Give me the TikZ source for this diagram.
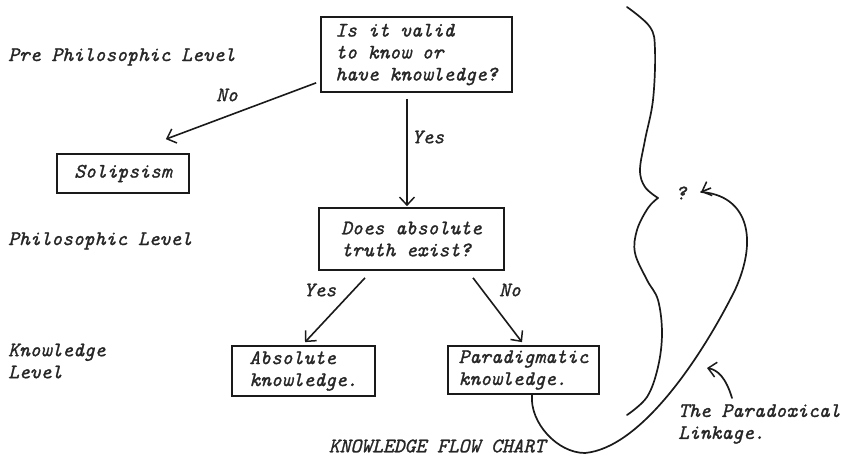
\documentclass[tikz,border=0pt]{standalone}
\usepackage{fontspec}
\setmonofont{Latin Modern Mono}[ItalicFeatures={FakeBold=1.2}]
\usetikzlibrary{arrows.meta,calc}
\definecolor{ink}{HTML}{1A1A1A}
\definecolor{type}{HTML}{262626}
\begin{document}
\begin{tikzpicture}[x=1pt,y=-1pt,
  font=\fontsize{20.6}{22}\selectfont\ttfamily\itshape,
  box/.style={draw=ink,line width=1.7pt,align=left,inner sep=0pt,text=type},
  lbl/.style={inner sep=0pt,text=type,align=left},
  tip/.style={-{Straight Barb[length=8pt,width=15pt,line width=1.5pt]}},
  arr/.style={draw=ink,line width=1.6pt,tip},
  curve/.style={draw=ink,line width=1.7pt,line cap=round,line join=round}]
\useasboundingbox (0,0) rectangle (844,456);

% level captions on the left
\node[lbl,anchor=west] (pre)  at (8,57)  {Pre Philosophic Level};
\node[lbl,anchor=west] (phil) at (8,241) {Philosophic Level};
\node[lbl,anchor=west] (know) at (8,361) {Knowledge\\Level};

% decision boxes and outcomes
\node[box,minimum width=191pt,minimum height=75pt] (b1)  at (416.5,54.5) {Is it valid\\to know or\\have knowledge?};
\node[box,minimum width=132pt,minimum height=39pt] (sol) at (123,173.5) {Solipsism};
\node[box,minimum width=185pt,minimum height=62pt] (b2)  at (411.5,239) {Does absolute\\truth exist?};
\node[box,minimum width=143pt,minimum height=50pt] (abs) at (303.5,371) {Absolute\\knowledge.};
\node[box,minimum width=151pt,minimum height=48pt] (par) at (523.5,370) {Paradigmatic\\knowledge.};

% branches
\draw[arr] ($(b1.south west)+(-4,-10)$) -- ($(sol.north east)+(-24,-14)$);
\draw[arr] ($(b1.south)+(-9.5,6)$) -- ($(b2.north)+(-4.5,-1)$);
\draw[arr] ($(b2.south)+(-46.5,7)$) -- ($(abs.north)+(1.5,-3)$);
\draw[arr] ($(b2.south)+(61.5,7)$) -- ($(par.north)+(-1.5,-3)$);

\node[lbl] (no1)  at (227,95)  {No};
\node[lbl] (yes1) at (428,137) {Yes};
\node[lbl] (yes2) at (320,290) {Yes};
\node[lbl] (no2)  at (510,290) {No};

% the brace and its open question
\draw[curve] plot[smooth,tension=0.6] coordinates {(627,7) (650,27) (655,50) (653,100) (645,140) (640,170) (645,187) (658,198)};
\draw[curve] plot[smooth,tension=0.6] coordinates {(658,198) (648,208) (637,230) (635,253) (647,280) (658,300) (662,333) (658,367) (647,397) (627,415)};
\node[lbl] (q) at (681,193) {?};

% the loop back from paradigmatic knowledge
\coordinate (qin) at (701,192);
\draw[curve] ($(par.south)+(8.5,0)$) to[out=-95,in=180,looseness=0.9] (585,453)
  .. controls (640,448) and (700,360) .. (735,290)
  .. controls (760,235) and (745,195) .. (qin);
\draw[arr] (qin) ++(10,-4) -- (qin);
\draw[curve,tip] (732,398) .. controls (726,378) and (718,370) .. (707,368);

\node[lbl,anchor=west] (para) at (678,424) {The Paradoxical\\Linkage.};
\node[lbl] (title) at (437,446) {KNOWLEDGE FLOW CHART};
\end{tikzpicture}
\end{document}
